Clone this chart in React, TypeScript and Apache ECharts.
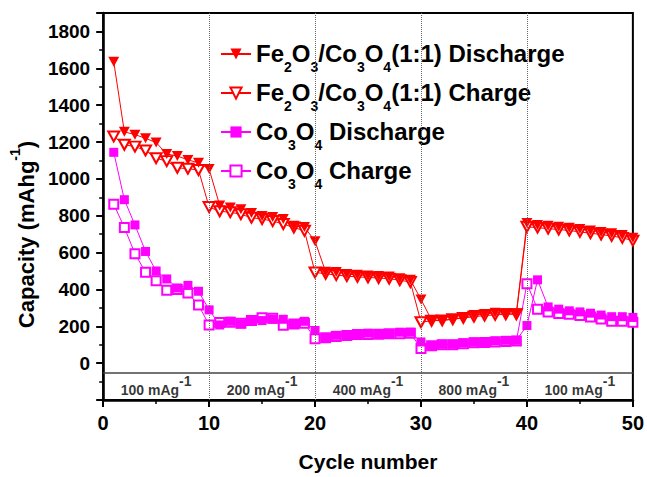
import React, { useEffect, useRef } from 'react';
import * as echarts from 'echarts';

const cycles = [1, 2, 3, 4, 5, 6, 7, 8, 9, 10, 11, 12, 13, 14, 15, 16, 17, 18, 19, 20, 21, 22, 23, 24, 25, 26, 27, 28, 29, 30, 31, 32, 33, 34, 35, 36, 37, 38, 39, 40, 41, 42, 43, 44, 45, 46, 47, 48, 49, 50];

const feDischarge = [1635, 1255, 1240, 1220, 1197, 1135, 1124, 1103, 1087, 1053,
  856, 845, 835, 815, 798, 793, 782, 745, 739, 661,
  496, 495, 484, 479, 475, 473, 470, 461, 452, 346,
  234, 232, 239, 248, 261, 266, 273, 271, 271, 760,
  750, 745, 740, 735, 728, 720, 712, 705, 695, 680];

const feCharge = [1230, 1185, 1175, 1154, 1112, 1096, 1060, 1055, 1048, 847,
  824, 819, 808, 789, 782, 771, 755, 736, 718, 492,
  485, 478, 472, 468, 465, 462, 458, 450, 440, 222,
  230, 232, 238, 245, 252, 258, 262, 265, 265, 740,
  735, 730, 725, 720, 712, 705, 698, 690, 680, 665];

const coDischarge = [1144, 887, 750, 606, 500, 457, 408, 422, 390, 289,
  207, 227, 213, 231, 231, 238, 238, 213, 227, 177,
  135, 151, 151, 160, 163, 160, 160, 168, 168, 115,
  92, 103, 103, 110, 115, 115, 121, 124, 124, 204,
  452, 305, 293, 284, 278, 271, 261, 252, 252, 248];

const coCharge = [862, 736, 594, 493, 447, 395, 400, 381, 315, 207,
  220, 222, 217, 232, 246, 243, 206, 213, 216, 133,
  138, 145, 150, 155, 156, 157, 160, 160, 162, 80,
  95, 100, 100, 105, 110, 112, 115, 118, 120, 431,
  293, 278, 270, 265, 258, 250, 240, 228, 228, 222];

const rateCycles = [5, 15, 25, 35, 45];
const rateValues = ['100', '200', '400', '800', '100'];
const rateLabelY = -145;
const rateBoundaries = [10, 20, 30, 40];
const bandLineY = -50;

const names = {
  feD: 'Fe2O3/Co3O4(1:1) Discharge',
  feC: 'Fe2O3/Co3O4(1:1) Charge',
  coD: 'Co3O4 Discharge',
  coC: 'Co3O4 Charge',
};

const richNames: Record<string, string> = {
  [names.feD]: '{n|Fe}{s|2}{n|O}{s|3}{n|/Co}{s|3}{n|O}{s|4}{n|(1:1) Discharge}',
  [names.feC]: '{n|Fe}{s|2}{n|O}{s|3}{n|/Co}{s|3}{n|O}{s|4}{n|(1:1) Charge}',
  [names.coD]: '{n|Co}{s|3}{n|O}{s|4}{n| Discharge}',
  [names.coC]: '{n|Co}{s|3}{n|O}{s|4}{n| Charge}',
};

const RED = '#ff0000';
const MAG = '#ff00ff';
const FONT = '"Liberation Sans", Arial, sans-serif';

export default function App() {
  const ref = useRef<HTMLDivElement>(null);
  useEffect(() => {
    const chart = echarts.init(ref.current!, null, { renderer: 'svg' });
    const pair = (arr: number[]) => cycles.map((c, i) => [c, arr[i]]);
    const base = {
      type: 'line',
      lineStyle: { width: 1 },
      itemStyle: { borderWidth: 1 },
      emphasis: { disabled: true },
      z: 3,
    };
    chart.setOption({
      animation: false,
      backgroundColor: '#fff',
      grid: { left: 102, right: 10, top: 13, bottom: 69, show: true, borderColor: '#000', borderWidth: 2, backgroundColor: 'transparent' },
      legend: {
        data: [names.feD, names.feC, names.coD, names.coC],
        orient: 'vertical',
        left: 220,
        top: 41,
        padding: 0,
        itemGap: 6,
        itemWidth: 30,
        itemHeight: 14,
        formatter: (n: string) => richNames[n] || n,
        textStyle: {
          rich: {
            n: { fontSize: 24, fontWeight: 'bold', fontFamily: FONT, color: '#000', lineHeight: 26, verticalAlign: 'top' },
            s: { fontSize: 14, fontWeight: 'bold', fontFamily: FONT, color: '#000', lineHeight: 14, padding: [19, 0, 0, 0], verticalAlign: 'top' },
          },
        },
      },
      xAxis: {
        type: 'value',
        min: 0,
        max: 50,
        interval: 10,
        axisLine: { show: true, onZero: false, lineStyle: { color: '#000', width: 2.5 } },
        axisTick: { show: true, inside: false, length: 7, lineStyle: { color: '#000', width: 2 } },
        minorTick: { show: true, splitNumber: 2, length: 4, lineStyle: { color: '#000', width: 1.5 } },
        splitLine: { show: false },
        axisLabel: { fontSize: 20, fontWeight: 'bold', color: '#000', fontFamily: FONT, margin: 13 },
        name: 'Cycle number',
        nameLocation: 'middle',
        nameGap: 51,
        nameTextStyle: { fontSize: 21, fontWeight: 'bold', color: '#000', fontFamily: FONT },
      },
      yAxis: {
        type: 'value',
        min: -200,
        max: 1900,
        interval: 200,
        axisLine: { show: true, onZero: false, lineStyle: { color: '#000', width: 2.5 } },
        axisTick: { show: true, inside: false, length: 7, lineStyle: { color: '#000', width: 2 } },
        minorTick: { show: true, splitNumber: 2, length: 4, lineStyle: { color: '#000', width: 1.5 } },
        splitLine: { show: false },
        axisLabel: {
          fontSize: 19, fontWeight: 'bold', color: '#000', fontFamily: FONT, margin: 13,
          formatter: (v: number) => (v < 0 || v > 1800 ? '' : String(v)),
        },
        name: '{a|Capacity (mAhg}{b|-1}{a|)}',
        nameLocation: 'middle',
        nameGap: 55,
        nameTextStyle: {
          padding: [0, 56, 0, 0],
          rich: {
            a: { fontSize: 22, fontWeight: 'bold', color: '#000', fontFamily: FONT, lineHeight: 36 },
            b: { fontSize: 14, fontWeight: 'bold', color: '#000', fontFamily: FONT, lineHeight: 8, verticalAlign: 'top' },
          },
        },
      },
      series: [
        {
          ...base,
          name: names.feC,
          data: pair(feCharge),
          color: RED,
          symbol: 'emptyTriangle',
          symbolRotate: 180,
          symbolSize: [11, 10],
          markLine: {
            silent: true,
            symbol: 'none',
            label: { show: false },
            lineStyle: { type: 'dotted', color: '#666', width: 1 },
            data: [
              ...rateBoundaries.map((b) => ({ xAxis: b })),
              { yAxis: bandLineY, lineStyle: { type: 'solid', color: '#444', width: 1.5 } },
            ],
          },
        },
        {
          ...base,
          name: names.feD,
          data: pair(feDischarge),
          color: RED,
          symbol: 'triangle',
          symbolRotate: 180,
          symbolSize: [11, 10],
        },
        {
          ...base,
          name: names.coC,
          data: pair(coCharge),
          color: MAG,
          symbol: 'emptyRect',
          symbolSize: 9,
        },
        {
          ...base,
          name: names.coD,
          data: pair(coDischarge),
          color: MAG,
          symbol: 'rect',
          symbolSize: 9,
        },
        {
          type: 'scatter',
          name: 'rates',
          silent: true,
          symbolSize: 0,
          data: rateCycles.map((c) => [c, rateLabelY]),
          label: {
            show: true,
            position: 'inside',
            formatter: (p: any) => `{m|${rateValues[p.dataIndex]} mAg}{p|-1}`,
            rich: {
              m: { fontSize: 14, fontWeight: 'bold', color: '#000', fontFamily: FONT, lineHeight: 32 },
              p: { fontSize: 14, fontWeight: 'bold', color: '#000', fontFamily: FONT, lineHeight: 10, verticalAlign: 'top' },
            },
          },
        },
      ],
    });
    return () => chart.dispose();
  }, []);
  return <div ref={ref} style={{ position: 'fixed', left: 0, top: 0, width: 647, height: 477, background: '#fff' }} />;
}
